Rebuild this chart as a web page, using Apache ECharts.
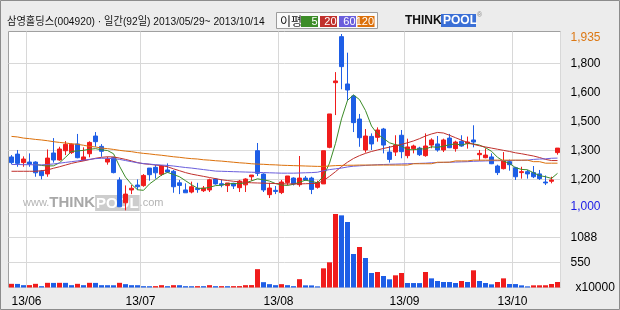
<!DOCTYPE html>
<html><head><meta charset="utf-8">
<script src="https://cdn.jsdelivr.net/npm/echarts/dist/echarts.min.js"></script>
<style>html,body{margin:0;padding:0;background:#ececec}#c{width:620px;height:310px}</style>
</head><body><div id="c"></div>
<script>
const dates = ['2013-05-29','2013-05-30','2013-05-31',
'2013-06-03','2013-06-04','2013-06-05','2013-06-07','2013-06-10','2013-06-11','2013-06-12','2013-06-13','2013-06-14','2013-06-17','2013-06-18','2013-06-19','2013-06-20','2013-06-21','2013-06-24','2013-06-25','2013-06-26','2013-06-27','2013-06-28',
'2013-07-01','2013-07-02','2013-07-03','2013-07-04','2013-07-05','2013-07-08','2013-07-09','2013-07-10','2013-07-11','2013-07-12','2013-07-15','2013-07-16','2013-07-17','2013-07-18','2013-07-19','2013-07-22','2013-07-23','2013-07-24','2013-07-25','2013-07-26','2013-07-29','2013-07-30','2013-07-31',
'2013-08-01','2013-08-02','2013-08-05','2013-08-06','2013-08-07','2013-08-08','2013-08-09','2013-08-12','2013-08-13','2013-08-14','2013-08-16','2013-08-19','2013-08-20','2013-08-21','2013-08-22','2013-08-23','2013-08-26','2013-08-27','2013-08-28','2013-08-29','2013-08-30',
'2013-09-02','2013-09-03','2013-09-04','2013-09-05','2013-09-06','2013-09-09','2013-09-10','2013-09-11','2013-09-12','2013-09-13','2013-09-16','2013-09-17','2013-09-23','2013-09-24','2013-09-25','2013-09-26','2013-09-27','2013-09-30',
'2013-10-01','2013-10-02','2013-10-04','2013-10-07','2013-10-08','2013-10-10','2013-10-11','2013-10-14'];

const opens = [1283,1298,1253,1256,1256,1207,1193,1304,1267,1316,
1306,1352,1265,1300,1394,1339,1256,1279,1161,1040,
1108,1134,1131,1224,1228,1191,1214,1207,1146,1108,
1097,1116,1104,1108,1166,1141,1131,1143,1120,1135,
1178,1316,1192,1083,1106,1094,1147,1171,1136,1171,
1171,1122,1140,1334,1677,1921,1670,1606,1484,1320,
1392,1387,1431,1309,1309,1398,1290,1327,1330,1290,
1346,1352,1320,1383,1327,1366,1355,1373,1295,1279,
1283,1235,1221,1258,1226,1200,1205,1200,1193,1150,
1154,1306];
const closes = [1253,1249,1272,1245,1199,1184,1277,1267,1325,1350,
1350,1279,1283,1360,1364,1313,1272,1200,1019,1086,
1117,1125,1185,1189,1199,1235,1203,1125,1132,1093,
1125,1110,1118,1162,1140,1134,1145,1129,1155,1166,
1187,1196,1108,1118,1100,1150,1182,1140,1171,1161,
1111,1147,1316,1511,1686,1762,1638,1465,1385,1394,
1352,1426,1346,1270,1346,1311,1336,1341,1295,1341,
1373,1320,1373,1332,1362,1341,1362,1362,1302,1293,
1247,1200,1262,1242,1178,1205,1193,1178,1168,1145,
1161,1330];
const lows = [1245,1231,1231,1231,1178,1164,1178,1253,1263,1293,
1299,1276,1262,1281,1337,1284,1242,1196,1019,1000,
1086,1108,1125,1157,1168,1182,1199,1093,1086,1093,
1090,1093,1097,1097,1136,1122,1097,1113,1097,1097,
1157,1182,1097,1065,1086,1086,1132,1132,1125,1157,
1086,1115,1140,1329,1505,1642,1580,1415,1337,1306,
1320,1364,1302,1253,1288,1276,1276,1302,1288,1284,
1329,1311,1309,1330,1311,1337,1327,1334,1263,1276,
1245,1187,1217,1210,1161,1168,1168,1171,1161,1134,
1143,1295];
const highs = [1293,1320,1286,1302,1260,1214,1323,1383,1337,1367,
1355,1405,1334,1366,1415,1351,1284,1284,1175,1132,
1134,1164,1192,1224,1240,1240,1249,1214,1161,1143,
1152,1146,1129,1168,1171,1164,1145,1146,1161,1170,
1187,1357,1196,1146,1129,1161,1182,1175,1288,1182,
1178,1157,1316,1511,1733,1935,1836,1612,1511,1431,
1408,1440,1437,1341,1398,1426,1380,1348,1337,1408,
1382,1394,1380,1405,1369,1398,1391,1451,1320,1329,
1302,1242,1309,1269,1231,1231,1214,1235,1214,1185,
1178,1330];
const volumes = [80,78,51,52,80,29,102,100,102,101,
51,80,51,102,100,51,50,49,102,73,
51,50,29,28,30,51,29,51,50,29,
28,30,29,51,29,30,29,30,31,51,
53,399,116,73,51,73,51,29,181,47,
46,25,417,548,1599,1570,1425,729,881,642,
316,337,250,178,265,316,98,97,96,337,
199,141,120,119,98,141,120,374,141,98,
69,120,199,76,75,47,25,47,48,49,
76,120];
const ma5 = ['-','-','-','-',1243,1238,1235,1236,1252,1281,
1312,1315,1318,1324,1327,1321,1317,1300,1234,1176,
1138,1109,1106,1140,1163,1187,1201,1190,1178,1157,
1136,1117,1116,1122,1131,1133,1140,1142,1141,1146,
1156,1167,1162,1155,1142,1134,1132,1138,1149,1160,
1153,1146,1181,1250,1355,1485,1583,1612,1587,1529,
1447,1404,1381,1358,1348,1340,1322,1321,1326,1325,
1337,1334,1340,1348,1352,1346,1354,1352,1346,1332,
1313,1281,1261,1249,1226,1217,1215,1199,1184,1178,
1169,1196];
const ma20 = [1207,1207,1207,1207,1207,1210,1214,1223,1231,1240,
1249,1256,1262,1269,1276,1281,1284,1283,1277,1270,
1262,1253,1247,1244,1240,1237,1231,1220,1210,1200,
1192,1186,1180,1174,1168,1162,1158,1154,1151,1148,
1146,1145,1144,1143,1142,1141,1140,1140,1140,1141,
1142,1143,1158,1180,1205,1232,1255,1275,1290,1302,
1312,1320,1328,1335,1342,1350,1358,1368,1380,1394,
1405,1413,1410,1398,1385,1372,1360,1350,1342,1336,
1330,1324,1318,1312,1305,1300,1294,1288,1280,1270,
1264,1264];
const ma60 = [1243,1243,1242,1242,1241,1241,1243,1246,1250,1254,
1258,1262,1266,1270,1274,1276,1276,1274,1270,1264,
1258,1252,1248,1245,1242,1240,1238,1235,1231,1227,
1224,1220,1216,1212,1208,1207,1206,1205,1204,1203,
1202,1201,1200,1199,1198,1197,1197,1197,1198,1199,
1200,1202,1210,1216,1220,1224,1230,1234,1236,1238,
1240,1242,1243,1244,1245,1246,1247,1248,1249,1250,
1252,1253,1254,1255,1256,1257,1258,1260,1261,1262,
1263,1263,1264,1264,1265,1265,1266,1270,1272,1273,
1276,1277];
const ma120 = [1392,1389,1383,1380,1376,1373,1369,1364,1360,1357,
1353,1350,1345,1339,1336,1330,1327,1323,1318,1314,
1311,1306,1302,1299,1295,1292,1288,1284,1281,1277,
1274,1272,1268,1266,1263,1261,1258,1255,1252,1250,
1247,1245,1244,1242,1241,1239,1238,1237,1236,1235,
1234,1233,1233,1235,1237,1238,1239,1239,1240,1240,
1240,1240,1240,1240,1240,1240,1240,1247,1247,1247,
1247,1255,1255,1255,1262,1262,1262,1266,1266,1266,
1266,1266,1266,1266,1266,1266,1266,1258,1258,1250,
1250,1250];

const priceGridValues = [1165,1318,1472,1626,1780];
const priceGridLabels = ['1,200','1,300','1,500','1,600','1,800'];
const volTickValues = [0,544,1088];
const volTickLabels = ['x10000','550','1088'];
const maNames = ['5','20','60','120'];
const maColors = ['#3c8c28','#c0302c','#6a5edc','#dc700a'];
const titleText = '삼영홀딩스(004920) · 일간(92일) 2013/05/29~ 2013/10/14';

const UP = '#f01c1c', DOWN = '#1e5ee6';
const priceHigh = Math.max(...highs), priceLow = Math.min(...lows);
const fmt = v => String(v).replace(/\B(?=(\d{3})+(?!\d))/g, ',');
const isMonthStart = i => i > 0 && dates[i].slice(5,7) !== dates[i-1].slice(5,7);

const candleData = dates.map((d,i) => [opens[i], closes[i], lows[i], highs[i]]);
const volData = volumes.map((v,i) => ({value: v, itemStyle: {color: (i > 0 && v < volumes[i-1]) ? DOWN : UP}}));

const chart = echarts.init(document.getElementById('c'));
const lbl = {fontFamily: '"Liberation Sans", Arial, sans-serif', fontSize: 12, color: '#000'};
const GL = 8.5, GW = 552;

const maSeries = [ma5, ma20, ma60, ma120].map((arr, k) => ({
  type: 'line', name: 'MA' + maNames[k], xAxisIndex: 0, yAxisIndex: 0, data: arr,
  showSymbol: false, symbol: 'none', connectNulls: false, silent: true,
  lineStyle: {color: maColors[k], width: 1}, z: 3
}));

const legendEls = [
  {type: 'rect', shape: {x: 276.5, y: 12.5, width: 101, height: 16}, style: {fill: '#fafafa', stroke: '#9c9c9c', lineWidth: 1}, z: 10},
  {type: 'text', x: 280, y: 21, style: {text: '이평', font: '12px "Noto Sans CJK KR"', fill: '#111', verticalAlign: 'middle'}, z: 11}
];
const boxX = [301, 320, 339, 357.5];
maNames.forEach((n, k) => {
  legendEls.push({type: 'rect', shape: {x: boxX[k], y: 16, width: 17, height: 11}, style: {fill: maColors[k]}, z: 11});
  legendEls.push({type: 'text', x: boxX[k] + 16.5, y: 21.8, style: {text: n, font: '11px "Liberation Sans"', fill: '#fff', align: 'right', verticalAlign: 'middle'}, z: 12});
});

chart.setOption({
  animation: false,
  backgroundColor: '#ececec',
  graphic: [
    {type: 'rect', shape: {x: 0.5, y: 0.5, width: 619, height: 309}, style: {fill: 'none', stroke: '#8c8c8c', lineWidth: 1}, z: 20},
    {type: 'text', x: 7, y: 21.5, scaleX: 0.93, style: {text: titleText, font: '11px "Liberation Sans", "Noto Sans CJK KR"', fill: '#111', verticalAlign: 'middle'}, z: 10},
    ...legendEls,
    {type: 'text', x: 405, y: 21, style: {text: 'THINK', font: 'bold 12px "Liberation Sans"', fill: '#111', verticalAlign: 'middle'}, z: 10},
    {type: 'rect', shape: {x: 441, y: 14, width: 35, height: 13}, style: {fill: '#3a6fd6'}, z: 10},
    {type: 'text', x: 443, y: 21, style: {text: 'POOL', font: 'bold 12px "Liberation Sans"', fill: '#fff', verticalAlign: 'middle'}, z: 11},
    {type: 'text', x: 477, y: 15, style: {text: '®', font: '7px "Liberation Sans"', fill: '#888', verticalAlign: 'middle'}, z: 11},
    {type: 'text', x: 23, y: 203, z: 1, style: {
      text: '{a|www.}{b|THINK}{c|POOL}{a|.com}', verticalAlign: 'middle',
      rich: {
        a: {fontSize: 11, fontFamily: 'Liberation Sans', fill: '#b4b4b4', color: '#b4b4b4'},
        b: {fontSize: 15, fontWeight: 'bold', fontFamily: 'Liberation Sans', fill: '#a8a8a8', color: '#a8a8a8'},
        c: {fontSize: 15, fontWeight: 'bold', fontFamily: 'Liberation Sans', fill: '#ffffff', color: '#ffffff', backgroundColor: '#cdcdcd', padding: [1, 1, 0, 1]}
      }}}
  ],
  grid: [
    {left: GL, width: GW, top: 31.5, height: 181, show: true, backgroundColor: '#fff', borderColor: '#a0a0a0', borderWidth: 1},
    {left: GL, width: GW, top: 212.5, height: 75, show: true, backgroundColor: '#fff', borderColor: '#a0a0a0', borderWidth: 1}
  ],
  xAxis: [
    {type: 'category', gridIndex: 0, data: dates, boundaryGap: true,
     axisLine: {show: false}, axisTick: {show: false}, axisLabel: {show: false},
     splitLine: {show: true, interval: (i) => isMonthStart(i), lineStyle: {color: '#d8d8d8', width: 1}}},
    {type: 'category', gridIndex: 1, data: dates, boundaryGap: true,
     axisLine: {show: false}, axisTick: {show: false},
     axisLabel: Object.assign({}, lbl, {interval: (i) => isMonthStart(i), margin: 8, padding: [0, 6, 0, 0],
       formatter: v => v.slice(2,4) + '/' + v.slice(5,7)}),
     splitLine: {show: true, interval: (i) => isMonthStart(i), lineStyle: {color: '#d8d8d8', width: 1}}}
  ],
  yAxis: [
    {type: 'value', gridIndex: 0, position: 'right', min: 988.4, max: 1948.3, scale: true,
     axisLine: {show: false},
     axisTick: {show: false, customValues: priceGridValues},
     splitLine: {show: true, lineStyle: {color: '#d8d8d8', width: 1}},
     axisLabel: Object.assign({}, lbl, {margin: 10, customValues: [priceLow, ...priceGridValues, priceHigh],
       formatter: v => {
         const k = priceGridValues.indexOf(v);
         if (k >= 0) return priceGridLabels[k];
         if (v === priceHigh) return '{hi|' + fmt(v) + '}';
         if (v === priceLow) return '{lo|' + fmt(v) + '}';
         return '';
       },
       rich: {hi: {color: '#dc7814', fontSize: 12, fontFamily: 'Liberation Sans', padding: [8, 0, 0, 0]},
              lo: {color: '#1a1ae6', fontSize: 12, fontFamily: 'Liberation Sans', padding: [0, 0, 7, 0]}}})},
    {type: 'value', gridIndex: 1, position: 'right', min: 0, max: 1632, interval: 544,
     axisLine: {show: false}, axisTick: {show: false},
     splitLine: {show: true, lineStyle: {color: '#d8d8d8', width: 1}},
     axisLabel: Object.assign({}, lbl, {margin: 10, showMaxLabel: false,
       formatter: v => {
         const k = volTickValues.indexOf(v);
         if (k === 0) return '{u|' + volTickLabels[0] + '}';
         return k > 0 ? volTickLabels[k] : '';
       },
       rich: {u: {fontSize: 12, fontFamily: 'Liberation Sans', color: '#000', padding: [0, 0, 0, 5]}}})}
  ],
  series: [
    {type: 'candlestick', name: 'price', xAxisIndex: 0, yAxisIndex: 0, data: candleData, barWidth: 4,
     silent: true, z: 2,
     itemStyle: {color: UP, color0: DOWN, borderColor: UP, borderColor0: DOWN, borderColorDoji: UP, borderWidth: 1}},
    ...maSeries,
    {type: 'bar', name: 'volume', xAxisIndex: 1, yAxisIndex: 1, data: volData, barWidth: 5, silent: true}
  ]
});
</script></body></html>
